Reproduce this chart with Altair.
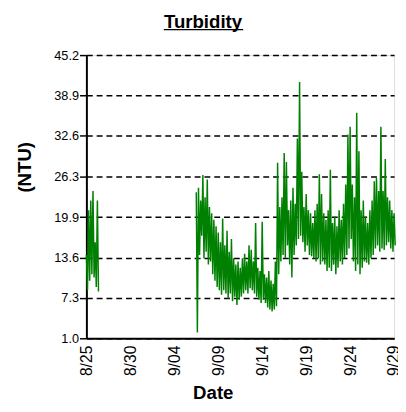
import altair as alt
import pandas as pd

# ---- data ----
chart_title = "Turbidity"

# segment 1: starts 8/25 00:00, one (high, low) pair every 6 hours
seg1_start = "2023-08-25T00:00:00Z"
seg1_hi = [14.0, 21.0, 22.5, 24.0, 16.0, 22.5]
seg1_lo = [8.5, 10.0, 11.0, 10.5, 9.0, 8.3]

# segment 2: starts 9/06 12:00, one (high, low) pair every 6 hours
seg2_start = "2023-09-06T12:00:00Z"
seg2_hi = [23.8, 24.5, 22.5, 26.5, 23.0, 25.8, 21.5, 20.5, 19.5, 18.5,
           17.5, 16.0, 19.7, 15.5, 17.8, 14.5, 16.5, 13.5, 12.5, 13.0,
           12.0, 13.5, 14.2, 13.0, 15.5, 14.8, 13.0, 19.0, 12.0, 11.5,
           19.2, 11.0, 10.5, 11.5, 10.0, 9.5, 13.0, 28.4, 21.5, 23.0,
           29.9, 28.5, 21.0, 22.5, 24.5, 22.0, 32.2, 41.0, 27.0, 21.5,
           23.5, 21.0, 20.5, 19.0, 21.0, 22.0, 26.6, 23.5, 20.5, 19.5,
           21.0, 27.3, 19.0, 20.0, 18.5, 21.0, 19.5, 22.0, 25.0, 32.8,
           34.0, 25.0, 23.0, 36.2, 30.2, 21.0, 22.5, 20.0, 19.0, 21.0,
           22.5, 25.5, 26.0, 24.0, 34.0, 24.0, 29.0, 23.0, 22.5, 21.0,
           20.5]
seg2_lo = [1.9, 14.0, 17.0, 13.5, 14.5, 12.5, 13.0, 11.0, 10.0, 9.0,
           8.5, 7.8, 8.5, 8.0, 7.2, 8.0, 6.8, 7.5, 6.2, 7.0,
           7.5, 8.0, 8.5, 8.0, 8.8, 8.5, 8.0, 7.5, 7.0, 6.5,
           7.0, 6.5, 5.8, 5.5, 5.2, 5.5, 6.0, 11.0, 13.0, 14.0,
           13.5, 15.5, 12.5, 10.5, 14.0, 15.5, 16.5, 17.0, 16.0, 14.5,
           15.5, 14.0, 13.8, 13.5, 13.0, 13.5, 12.5, 13.0, 12.5, 11.5,
           12.0, 11.5, 12.5, 11.0, 12.0, 13.0, 12.5, 13.5, 14.0, 15.0,
           16.5, 13.0, 11.5, 12.5, 11.0, 12.0, 13.0, 12.8, 12.5, 13.5,
           14.0, 15.0, 15.5, 14.5, 15.0, 14.8, 15.5, 16.0, 15.0, 14.5,
           15.5]

y_ticks = [1.0, 7.3, 13.6, 19.9, 26.3, 32.6, 38.9, 45.2]
x_ticks = ["2023-08-25", "2023-08-30", "2023-09-04", "2023-09-09",
           "2023-09-14", "2023-09-19", "2023-09-24", "2023-09-29"]
x_domain = ["2023-08-25", "2023-09-29"]

# ---- build table ----
rows = []
for seg, start, his, los in [(1, seg1_start, seg1_hi, seg1_lo),
                             (2, seg2_start, seg2_hi, seg2_lo)]:
    t0 = pd.Timestamp(start)
    for i, (h, l) in enumerate(zip(his, los)):
        rows.append({"seg": seg, "t": t0 + pd.Timedelta(hours=6 * i), "v": h})
        rows.append({"seg": seg, "t": t0 + pd.Timedelta(hours=6 * i + 3), "v": l})
df = pd.DataFrame(rows)
df["t"] = (df["t"].astype("int64") // 10**6)  # ms since epoch (UTC)

def ms(d):
    return int(pd.Timestamp(d, tz="UTC").value // 10**6)

FONT = "Liberation Sans"

line = alt.Chart(df).mark_line(color="#008000", strokeWidth=1.5).encode(
    x=alt.X("t:T",
            scale=alt.Scale(type="utc", domain=[ms(d) for d in x_domain], nice=False),
            axis=alt.Axis(values=[ms(d) for d in x_ticks], format="%-m/%d",
                          labelAngle=-90, labelFontSize=16, labelFont=FONT,
                          labelColor="black", labelPadding=7, tickSize=0,
                          grid=False, domainColor="black", domainWidth=2,
                          title="Date", titleFont=FONT, titleFontSize=19,
                          titleFontWeight="bold", titleColor="black",
                          titleX=129, titleY=61, titleBaseline="alphabetic",
                          titleAnchor="middle", labelFlush=False,
                          labelOverlap=False)),
    y=alt.Y("v:Q",
            scale=alt.Scale(domain=[1.0, 45.2], nice=False, zero=False),
            axis=alt.Axis(values=y_ticks, format=".1f", labelFontSize=13,
                          labelFont=FONT, labelColor="black", labelPadding=1,
                          tickSize=7, tickColor="black", tickWidth=1.5,
                          grid=True, gridColor="black", gridDash=[6, 4],
                          gridWidth=1.5, domainColor="black", domainWidth=2,
                          title="(NTU)", titleFont=FONT, titleFontSize=19,
                          titleFontWeight="bold", titleColor="black",
                          titleAngle=-90, titleX=-53, titleY=114,
                          titleBaseline="bottom", labelOverlap=False,
                          labelFlush=False)),
    detail="seg:N",
)

title_df = pd.DataFrame({"label": [chart_title]})
title_text = alt.Chart(title_df).mark_text(
    font=FONT, fontSize=19, fontWeight="bold", color="black",
    align="center", baseline="alphabetic").encode(
    text="label:N", x=alt.value(119), y=alt.value(-28))

underline = alt.Chart(title_df).mark_rule(
    color="black", strokeWidth=1.5).encode(
    x=alt.value(79), x2=alt.value(160), y=alt.value(-26))

chart = alt.layer(line, title_text, underline).properties(
    width=314, height=289,
    autosize=alt.AutoSizeParams(type="none"),
    padding={"left": 80, "top": 44, "right": 4, "bottom": 63},
).configure_view(stroke=None).configure(background="white")

chart.save("out.html", embed_options={"renderer": "svg", "actions": False})
